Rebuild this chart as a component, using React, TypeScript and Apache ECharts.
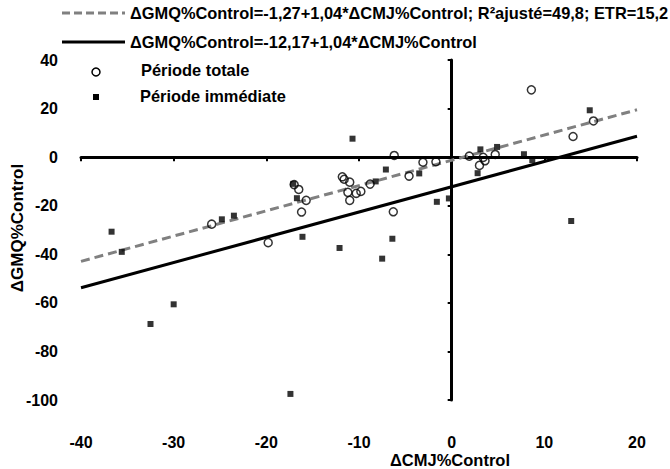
import React, { useEffect, useRef } from "react";
import * as echarts from "echarts";

const xTicks = { min: -40, max: 20, interval: 10 };
const yTicks = { min: -100, max: 40, interval: 20 };

const legendNames = [
  "ΔGMQ%Control=-1,27+1,04*ΔCMJ%Control; R²ajusté=49,8; ETR=15,2",
  "ΔGMQ%Control=-12,17+1,04*ΔCMJ%Control",
  "Période totale",
  "Période immédiate",
];

const xTitle = "ΔCMJ%Control";
const yTitle = "ΔGMQ%Control";

// regression line endpoints
const dashedLine = [
  [-40, -42.9],
  [20, 19.5],
];
const solidLine = [
  [-40, -53.8],
  [20, 8.6],
];

const periodeTotale = [
  [-25.9, -27.6], [-19.8, -35.2], [-17.0, -11.3], [-16.5, -13.3], [-15.7, -17.8],
  [-16.2, -22.6], [-11.8, -8.1], [-11.6, -9.1], [-11.0, -10.3], [-11.2, -14.5],
  [-10.3, -14.9], [-9.8, -14.1], [-11.0, -17.8], [-8.8, -11.1], [-6.2, 0.7],
  [-6.3, -22.5], [-4.6, -7.8], [-3.1, -2.1], [-1.7, -1.9], [1.9, 0.4],
  [3.4, -0.1], [3.6, -1.5], [3.0, -3.4], [4.7, 1.1], [8.6, 27.7],
  [13.1, 8.5], [15.3, 14.9],
];

const periodeImmediate = [
  [-36.7, -30.7], [-35.6, -39.0], [-32.5, -68.7], [-30.0, -60.6], [-24.8, -25.6],
  [-23.5, -24.1], [-17.4, -97.5], [-17.1, -11.0], [-16.7, -16.9], [-16.1, -32.8],
  [-12.1, -37.4], [-10.7, 7.6], [-8.2, -10.0], [-7.1, -5.1], [-7.5, -41.8],
  [-6.4, -33.6], [-3.5, -6.7], [-1.6, -18.4], [-0.3, -17.0], [2.8, -6.6],
  [3.1, 3.2], [4.9, 4.2], [7.8, 1.2], [8.7, -1.2], [12.9, -26.3],
  [14.9, 19.3],
];

const FONT = "Liberation Sans";
const DASH_ICON = "path://M0,0h8v3h-8z M12,0h8v3h-8z M24,0h8v3h-8z M36,0h8v3h-8z M48,0h8v3h-8z M60,0h3v3h-3z";
const SOLID_ICON = "path://M0,0h63v3h-63z";

export default function App() {
  const ref = useRef<HTMLDivElement>(null);
  useEffect(() => {
    if (!ref.current) return;
    document.body.style.margin = "0";
    const chart = echarts.init(ref.current, null, { renderer: "svg" });
    const labelStyle = { color: "#000", fontWeight: "bold", fontSize: 16, fontFamily: FONT };
    const legendBase = {
      orient: "vertical",
      padding: 0,
      itemGap: 0,
      symbolKeepAspect: true,
      itemStyle: { borderWidth: 0 },
      textStyle: { color: "#000", fontWeight: "bold", fontSize: 16.4, fontFamily: FONT },
      selectedMode: false,
    };
    chart.setOption({
      animation: false,
      backgroundColor: "#fff",
      grid: { left: 81, right: 33, top: 60, bottom: 69, containLabel: false, outerBoundsMode: "none" },
      legend: [
        {
          ...legendBase,
          data: [{ name: legendNames[0], icon: DASH_ICON }],
          left: 62, top: 5, itemWidth: 63, itemHeight: 3,
        },
        {
          ...legendBase,
          data: [{ name: legendNames[1], icon: SOLID_ICON }],
          left: 62, top: 34, itemWidth: 63, itemHeight: 3,
        },
        {
          ...legendBase,
          itemStyle: { opacity: 0 },
          data: [{ name: legendNames[2], icon: "rect" }],
          left: 67, top: 62, itemWidth: 68, itemHeight: 8,
        },
        {
          ...legendBase,
          itemStyle: { opacity: 0 },
          data: [{ name: legendNames[3], icon: "rect" }],
          left: 67, top: 88, itemWidth: 68, itemHeight: 6,
        },
      ],
      graphic: [
        {
          type: "circle",
          shape: { cx: 96, cy: 72, r: 4 },
          style: { fill: "rgba(255,255,255,0)", stroke: "#000", lineWidth: 1.5 },
        },
        {
          type: "rect",
          shape: { x: 93, y: 94, width: 6, height: 6 },
          style: { fill: "#000" },
        },
        {
          type: "text",
          left: 452 - 62,
          top: 451,
          style: { text: xTitle, ...labelStyle, fontSize: 16.5, fill: "#000", textAlign: "left" },
        },
        {
          type: "text",
          x: 17,
          y: 228,
          rotation: Math.PI / 2,
          style: {
            text: yTitle,
            ...labelStyle,
            fontSize: 17,
            fill: "#000",
            align: "center",
            verticalAlign: "middle",
          },
        },
      ],
      xAxis: [
        {
          type: "value",
          min: xTicks.min,
          max: xTicks.max,
          interval: xTicks.interval,
          position: "bottom",
          axisLine: { show: false, onZero: false },
          axisTick: { show: false },
          splitLine: { show: false },
          axisLabel: { ...labelStyle, margin: 34 },
        },
        {
          type: "value",
          min: xTicks.min,
          max: xTicks.max,
          interval: xTicks.interval,
          position: "bottom",
          axisLine: { show: true, onZero: true, lineStyle: { color: "#000", width: 3 } },
          axisTick: { show: true, length: 4, lineStyle: { color: "#000", width: 2 } },
          splitLine: { show: false },
          axisLabel: { show: false },
        },
      ],
      yAxis: [
        {
          type: "value",
          min: yTicks.min,
          max: yTicks.max,
          interval: yTicks.interval,
          position: "left",
          axisLine: { show: false, onZero: false },
          axisTick: { show: false },
          splitLine: { show: false },
          axisLabel: { ...labelStyle, margin: 23 },
        },
        {
          type: "value",
          min: yTicks.min,
          max: yTicks.max,
          interval: yTicks.interval,
          position: "left",
          axisLine: { show: true, onZero: true, lineStyle: { color: "#000", width: 3 } },
          axisTick: { show: true, length: 4, lineStyle: { color: "#000", width: 2 } },
          splitLine: { show: false },
          axisLabel: { show: false },
        },
      ],
      series: [
        {
          name: legendNames[0],
          type: "line",
          data: dashedLine,
          symbol: "none",
          lineStyle: { color: "#808080", width: 3, type: [9, 5] },
          itemStyle: { color: "#808080" },
          z: 3,
        },
        {
          name: legendNames[1],
          type: "line",
          data: solidLine,
          symbol: "none",
          lineStyle: { color: "#000", width: 3 },
          itemStyle: { color: "#000" },
          z: 3,
        },
        {
          name: legendNames[2],
          type: "scatter",
          data: periodeTotale,
          symbol: "circle",
          symbolSize: 8,
          itemStyle: { color: "rgba(255,255,255,0)", borderColor: "#000", borderWidth: 1.5 },
          z: 4,
        },
        {
          name: legendNames[3],
          type: "scatter",
          data: periodeImmediate,
          symbol: "rect",
          symbolSize: 6,
          itemStyle: { color: "#000" },
          z: 4,
        },
      ],
    });
    return () => chart.dispose();
  }, []);
  return <div ref={ref} style={{ width: 670, height: 469 }} />;
}
